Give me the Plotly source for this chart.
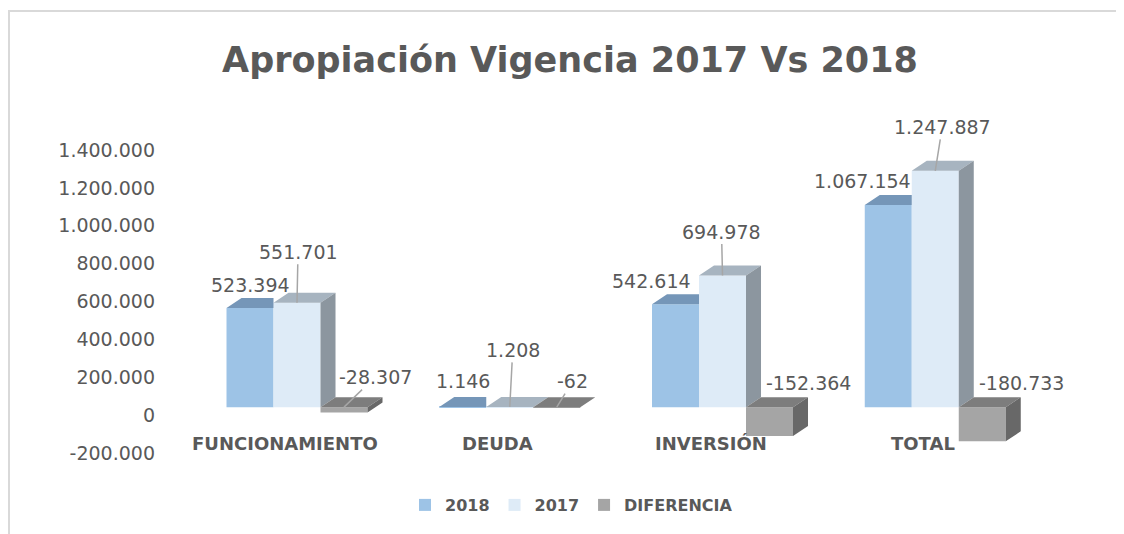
import plotly.graph_objects as go

categories = ["FUNCIONAMIENTO", "DEUDA", "INVERSIÓN", "TOTAL"]
series_names = ["2018", "2017", "DIFERENCIA"]
vals_2018 = [523394, 1146, 542614, 1067154]
vals_2017 = [551701, 1208, 694978, 1247887]
vals_dif = [-28307, -62, -152364, -180733]
tick_vals = [-200000, 0, 200000, 400000, 600000, 800000, 1000000, 1200000, 1400000]
tick_text = ["-200.000", "0", "200.000", "400.000", "600.000", "800.000",
             "1.000.000", "1.200.000", "1.400.000"]

# ---- styling / geometry (page pixel targets; figure sits 8px inside page) ----
OFF = 8
PAGE_W, PAGE_H = 1124, 534
P_L, P_R, P_T, P_B = 180, 1031, 142, 445     # plot area on the page
W, H = PAGE_W - OFF, PAGE_H - OFF
ML, MT = P_L - OFF, P_T - OFF
MR, MB = W - (P_R - OFF), H - (P_B - OFF)
PW, PH = P_R - P_L, P_B - P_T
XR = [-0.55, 3.45]
YR = [-200000, 1400000]
px_x = PW / (XR[1] - XR[0])
px_y = PH / (YR[1] - YR[0])
BW = 47 / px_x          # bar width in axis units
DX = 15 / px_x          # 3D depth offset (x)
DY = 10 / px_y          # 3D depth offset (y)

def paper_y(page_y):
    return (P_B - page_y) / PH

def paper_x(page_x):
    return (page_x - P_L) / PW

C_FRONT = ["#9DC3E6", "#DEEBF7", "#A5A5A5"]
C_TOP = ["#7596B8", "#A7B4C0", "#7D7D7D"]
C_SIDE = ["#8C969F", "#8C969F", "#686868"]
TXT = "#595959"
FONT = "DejaVu Sans"

def fmt(v):
    return f"{v:,}".replace(",", ".")

xs = list(range(len(categories)))
x18 = [i - BW for i in xs]
x17 = [i for i in xs]
xdf = [i + BW for i in xs]

fig = go.Figure()
for name, xv, yv, col in zip(series_names, [x18, x17, xdf], [vals_2018, vals_2017, vals_dif], C_FRONT):
    fig.add_trace(go.Bar(name=name, x=xv, y=yv, width=BW, marker=dict(color=col, line=dict(width=0)),
                         hoverinfo="skip"))

def poly_trace(px, py, color):
    return go.Scatter(x=px, y=py, mode="lines", fill="toself", fillcolor=color,
                      line=dict(width=0, color=color), showlegend=False, hoverinfo="skip")

# 2018 top faces (clipped at neighbour bar)
px, py = [], []
for xc, v in zip(x18, vals_2018):
    a, b = xc - BW / 2, xc + BW / 2
    top = max(v, 0)
    px += [a, b, b, a + DX, a, None]
    py += [top, top, top + DY, top + DY, top, None]
fig.add_trace(poly_trace(px, py, C_TOP[0]))

# 2017 top faces
px, py = [], []
for xc, v in zip(x17, vals_2017):
    a, b = xc - BW / 2, xc + BW / 2
    px += [a, b, b + DX, a + DX, a, None]
    py += [v, v, v + DY, v + DY, v, None]
fig.add_trace(poly_trace(px, py, C_TOP[1]))

# 2017 side faces
px, py = [], []
for xc, v in zip(x17, vals_2017):
    b = xc + BW / 2
    px += [b, b, b + DX, b + DX, b, None]
    py += [0, v, v + DY, DY, 0, None]
fig.add_trace(poly_trace(px, py, C_SIDE[1]))

# diferencia top faces (at zero)
px, py = [], []
for xc, v in zip(xdf, vals_dif):
    a, b = xc - BW / 2, xc + BW / 2
    px += [a, b, b + DX, a + DX, a, None]
    py += [0, 0, DY, DY, 0, None]
fig.add_trace(poly_trace(px, py, C_TOP[2]))

# diferencia side faces
px, py = [], []
for xc, v in zip(xdf, vals_dif):
    b = xc + BW / 2
    px += [b, b, b + DX, b + DX, b, None]
    py += [v, 0, DY, v + DY, v, None]
fig.add_trace(poly_trace(px, py, C_SIDE[2]))

annotations = []
lab_font = dict(family=FONT, size=19, color=TXT)
# 2018 labels (no leader)
off18 = [(0, 23), (0, 26), (-24, 23), (-26, 24)]
for xc, v, (dx, dy) in zip(x18, vals_2018, off18):
    annotations.append(dict(x=xc, y=v, text=fmt(v), showarrow=False, xshift=dx, yshift=dy,
                            font=lab_font))
# 2017 labels (with leaders)
off17 = [(1, -51), (3, -57), (-1, -44), (7, -44)]
for xc, v, (ax, ay) in zip(x17, vals_2017, off17):
    annotations.append(dict(x=xc, y=v, text=fmt(v), showarrow=True, arrowhead=0, arrowwidth=1.5,
                            arrowcolor="#A6A6A6", ax=ax, ay=ay, font=lab_font))
# diferencia labels
offdf = [(31, -30, True), (16, -26, True), (39, -24, False), (39, -24, False)]
for xc, v, (ax, ay, arr) in zip(xdf, vals_dif, offdf):
    if arr:
        annotations.append(dict(x=xc, y=0, text=fmt(v), showarrow=True, arrowhead=0, arrowwidth=1.5,
                                arrowcolor="#A6A6A6", ax=ax, ay=ay, font=lab_font))
    else:
        annotations.append(dict(x=xc, y=0, text=fmt(v), showarrow=False, xshift=ax, yshift=-ay,
                                font=lab_font))
# category labels
for i, c in zip(xs, categories):
    annotations.append(dict(x=i, y=paper_y(443), yref="paper", text=f"<b>{c}</b>", showarrow=False,
                            xshift=-12, yanchor="middle",
                            font=dict(family=FONT, size=18, color=TXT)))

fig.update_layout(
    width=W, height=H,
    margin=dict(l=ML, r=MR, t=MT, b=MB),
    paper_bgcolor="white", plot_bgcolor="white",
    barmode="overlay",
    title=dict(text="<b>Apropiación Vigencia 2017 Vs 2018</b>", x=(570 - OFF) / W, xanchor="center",
               y=1 - (60 - OFF) / H, yanchor="middle",
               font=dict(family=FONT, size=35, color=TXT)),
    xaxis=dict(range=XR, showticklabels=False, showgrid=False, zeroline=False, showline=False,
               ticks=""),
    yaxis=dict(range=YR, tickvals=tick_vals, ticktext=tick_text, showgrid=False, zeroline=False,
               showline=False, ticks="", ticklabelstandoff=24, ticklabelshift=8,
               tickfont=dict(family=FONT, size=19, color=TXT)),
    legend=dict(orientation="h", x=paper_x(405), xanchor="left",
                y=paper_y(505), yanchor="middle",
                font=dict(family=FONT, size=16, color=TXT, weight="bold"), itemwidth=30,
                traceorder="normal"),
    annotations=annotations,
    shapes=[dict(type="rect", xref="paper", yref="paper",
                 x0=paper_x(9), x1=paper_x(PAGE_W + 10),
                 y0=paper_y(PAGE_H + 10), y1=paper_y(11),
                 line=dict(color="#D9D9D9", width=2), layer="below")],
)

fig.write_html("out.html")
